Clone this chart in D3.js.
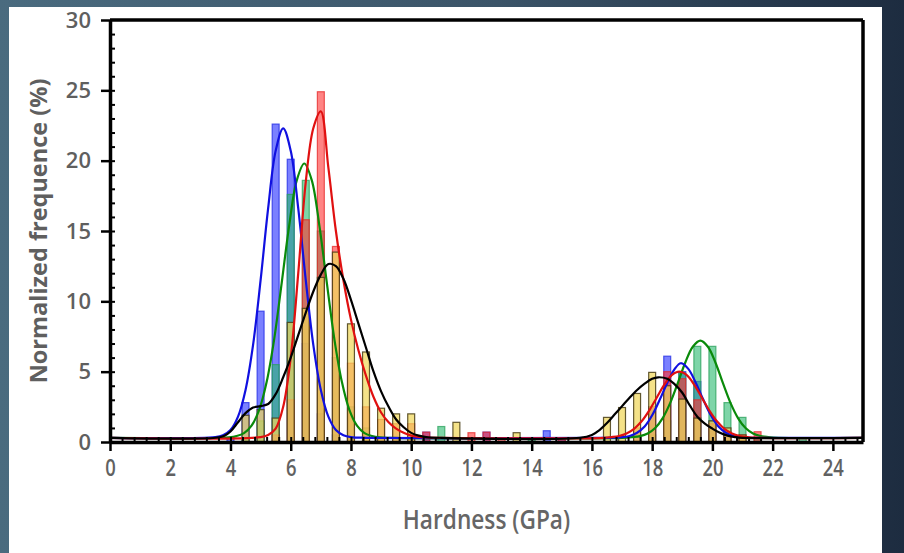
<!DOCTYPE html>
<html>
<head>
<meta charset="utf-8">
<script src="https://cdn.jsdelivr.net/npm/d3@7"></script>
<style>
  body { margin: 0; background: #2b4255; }
  svg { display: block; }
</style>
</head>
<body>
<div id="chart"></div>
<script>
let svgWidth = 904;
let svgHeight = 553;

let margin = { top: 20, right: 41, bottom: 111, left: 110 };
let width = svgWidth - margin.left - margin.right;
let height = svgHeight - margin.top - margin.bottom;

// histogram bin centres (GPa)
let bins = [4.0, 4.5, 5.0, 5.5, 6.0, 6.5, 7.0, 7.5, 8.0, 8.5, 9.0, 9.5, 10.0, 10.5, 11.0, 11.5,
  12.0, 12.5, 13.0, 13.5, 14.0, 14.5, 15.0, 15.5, 16.0, 16.5, 17.0, 17.5, 18.0, 18.5, 19.0,
  19.5, 20.0, 20.5, 21.0, 21.5, 22.0, 22.5, 23.0];

// normalized frequence (%) per bin
let blueBars = [0.3, 2.8, 9.3, 22.6, 20.1, 7.0, 2.0, 0.5, 0.3, 0, 0, 0, 0, 0.7, 0, 0,
  0, 0.7, 0, 0, 0, 0.8, 0.3, 0, 0, 0, 0, 0.5, 2.5, 6.1, 5.0,
  4.3, 1.5, 0.5, 0, 0, 0, 0, 0];
let greenBars = [0, 0.3, 1.5, 5.5, 17.6, 18.6, 15.0, 6.0, 2.5, 1.0, 0.3, 0, 0, 0, 1.1, 0,
  0, 0, 0, 0, 0.3, 0, 0, 0, 0, 0, 0, 0, 0.5, 1.5, 4.9,
  6.8, 6.8, 2.8, 1.75, 0.3, 0, 0, 0.3];
let redBars = [0, 0, 0, 0.5, 3.0, 15.8, 24.9, 13.9, 5.6, 2.5, 1.6, 1.3, 1.3, 0.7, 0, 0,
  0.66, 0.7, 0.3, 0, 0, 0, 0.3, 0, 0, 0, 0, 1.0, 2.5, 5.0, 4.5,
  3.0, 1.3, 0.7, 0.5, 0.73, 0, 0, 0];
let yellowBars = [0, 1.9, 2.3, 1.7, 8.5, 9.5, 11.7, 13.5, 8.4, 6.4, 2.4, 2.0, 2.0, 0, 0, 1.4,
  0, 0, 0, 0.66, 0, 0, 0, 0, 0, 1.75, 2.45, 3.45, 4.95, 4.0, 3.05,
  1.7, 1.5, 1.0, 0.5, 0, 0, 0, 0];

// fitted curves, [hardness, frequence]
let blueCurve = [[0, 0.3], [3.5, 0.35], [3.75, 0.48], [4.0, 0.85], [4.25, 1.8], [4.5, 3.7], [4.75, 6.9],
  [5.0, 11.5], [5.25, 16.6], [5.5, 20.7], [5.75, 22.3], [6.0, 20.7], [6.25, 16.6], [6.5, 11.5],
  [6.75, 6.9], [7.0, 3.7], [7.25, 1.8], [7.5, 0.85], [7.75, 0.48], [8.0, 0.35], [8.5, 0.3],
  [16.5, 0.3], [17.0, 0.34], [17.25, 0.43], [17.5, 0.66], [17.75, 1.1], [18.0, 1.9], [18.25, 3.0],
  [18.5, 4.2], [18.75, 5.2], [18.95, 5.6], [19.2, 5.2], [19.45, 4.2], [19.7, 3.0], [19.95, 1.9],
  [20.2, 1.1], [20.45, 0.66], [20.7, 0.43], [21.0, 0.33], [21.5, 0.3], [25, 0.3]];
let redCurve = [[0, 0.3], [5.0, 0.35], [5.25, 0.5], [5.5, 0.95], [5.75, 2.5], [6.0, 6.0],
  [6.25, 12.0], [6.5, 18.5], [6.75, 22.3], [7.0, 23.5], [7.25, 19.5], [7.5, 15.0], [7.75, 11.5],
  [8.0, 8.7], [8.25, 6.5], [8.5, 4.7], [8.75, 3.2], [9.0, 2.1], [9.25, 1.4], [9.5, 0.95],
  [9.75, 0.65], [10.0, 0.45], [10.5, 0.32], [11.0, 0.3], [16.4, 0.3], [16.65, 0.35], [16.9, 0.43],
  [17.15, 0.61], [17.4, 0.94], [17.65, 1.47], [17.9, 2.23], [18.15, 3.15], [18.4, 4.06],
  [18.65, 4.75], [18.9, 5.0], [19.15, 4.75], [19.4, 4.06], [19.65, 3.15], [19.9, 2.23],
  [20.15, 1.47], [20.4, 0.94], [20.65, 0.61], [20.9, 0.43], [21.15, 0.35], [21.5, 0.3], [25, 0.3]];
let greenCurve = [[0, 0.3], [3.7, 0.3], [3.95, 0.33], [4.2, 0.42], [4.45, 0.63], [4.7, 1.16],
  [4.95, 2.26], [5.2, 4.26], [5.45, 7.3], [5.7, 11.3], [5.95, 15.4], [6.2, 18.6], [6.45, 19.8],
  [6.7, 18.6], [6.95, 15.4], [7.2, 11.3], [7.45, 7.3], [7.7, 4.26], [7.95, 2.26], [8.2, 1.16],
  [8.45, 0.63], [8.7, 0.42], [8.95, 0.33], [9.3, 0.3], [17.0, 0.3], [17.35, 0.35], [17.6, 0.42],
  [17.85, 0.6], [18.1, 0.99], [18.35, 1.7], [18.6, 2.78], [18.85, 4.18], [19.1, 5.65],
  [19.35, 6.77], [19.6, 7.2], [19.85, 6.77], [20.1, 5.65], [20.35, 4.18], [20.6, 2.78],
  [20.85, 1.7], [21.1, 0.99], [21.35, 0.6], [21.6, 0.42], [21.85, 0.35], [22.2, 0.3], [25, 0.3]];
let blackCurve = [[0, 0.3], [3.5, 0.3], [3.8, 0.45], [4.0, 0.75], [4.25, 1.4], [4.5, 2.05],
  [4.75, 2.45], [5.0, 2.55], [5.25, 2.7], [5.5, 3.4], [5.75, 4.6], [6.0, 6.0], [6.25, 7.6],
  [6.5, 9.2], [6.75, 10.7], [7.0, 11.9], [7.25, 12.65], [7.5, 12.5], [7.75, 11.6], [8.0, 10.1],
  [8.25, 8.4], [8.5, 6.7], [8.75, 5.0], [9.0, 3.6], [9.25, 2.5], [9.5, 1.6], [9.75, 1.05],
  [10.0, 0.65], [10.25, 0.45], [10.5, 0.35], [11.0, 0.3], [15.6, 0.3], [16.0, 0.5], [16.25, 0.85],
  [16.5, 1.35], [16.75, 1.95], [17.0, 2.55], [17.25, 3.15], [17.5, 3.7], [17.75, 4.15],
  [18.0, 4.5], [18.2, 4.6], [18.5, 4.5], [18.75, 4.1], [19.0, 3.5], [19.25, 2.6], [19.5, 1.8],
  [19.75, 1.3], [20.0, 0.95], [20.25, 0.65], [20.5, 0.45], [20.75, 0.35], [21.0, 0.3], [25, 0.3]];

let xTicks = [0, 2, 4, 6, 8, 10, 12, 14, 16, 18, 20, 22, 24];
let yTicks = [0, 5, 10, 15, 20, 25, 30];

let svg = d3.select("#chart")
  .append("svg")
  .attr("width", svgWidth)
  .attr("height", svgHeight);

// dark video-frame background behind the white figure
let grad = svg.append("defs").append("linearGradient")
  .attr("id", "bg")
  .attr("x1", "0%").attr("x2", "100%").attr("y1", "0%").attr("y2", "0%");
grad.append("stop").attr("offset", "0%").attr("stop-color", "#4a6b7f");
grad.append("stop").attr("offset", "55%").attr("stop-color", "#3b5468");
grad.append("stop").attr("offset", "100%").attr("stop-color", "#1d2c40");

svg.append("rect")
  .attr("width", svgWidth)
  .attr("height", svgHeight)
  .attr("fill", "url(#bg)");

svg.append("rect")
  .attr("x", 9)
  .attr("y", 7)
  .attr("width", 873)
  .attr("height", svgHeight - 7)
  .attr("fill", "#ffffff");

let chartGroup = svg.append("g")
  .attr("transform", `translate(${margin.left}, ${margin.top})`);

let xScale = d3.scaleLinear().domain([0, 25]).range([0, width]);
let yScale = d3.scaleLinear().domain([0, 30]).range([height, 0]);

// bars
let barHalf = 0.115;
let series = [
  { values: blueBars, fill: "rgba(40,50,255,0.62)", stroke: "rgba(40,50,230,0.8)" },
  { values: greenBars, fill: "rgba(40,185,110,0.6)", stroke: "rgba(40,160,90,0.75)" },
  { values: redBars, fill: "rgba(255,50,50,0.6)", stroke: "rgba(230,40,40,0.75)" },
  { values: yellowBars, fill: "rgba(240,215,90,0.72)", stroke: "rgba(70,60,20,0.85)" }
];

series.forEach(function (s) {
  chartGroup.append("g")
    .selectAll("rect")
    .data(bins.map((b, i) => ({ x: b, v: s.values[i] })).filter(d => d.v > 0))
    .enter()
    .append("rect")
    .attr("x", d => xScale(d.x - barHalf))
    .attr("width", d => xScale(d.x + barHalf) - xScale(d.x - barHalf))
    .attr("y", d => yScale(d.v))
    .attr("height", d => yScale(0) - yScale(d.v))
    .attr("fill", s.fill)
    .attr("stroke", s.stroke)
    .attr("stroke-width", 1.2);
});

// fitted curves
let line = d3.line()
  .x(d => xScale(d[0]))
  .y(d => yScale(d[1]))
  .curve(d3.curveCatmullRom.alpha(0.5));

let curves = [
  { pts: greenCurve, color: "#0a8a0a" },
  { pts: blueCurve, color: "#1010e0" },
  { pts: redCurve, color: "#e01010" },
  { pts: blackCurve, color: "#000000" }
];
curves.forEach(function (c) {
  chartGroup.append("path")
    .datum(c.pts)
    .attr("d", line)
    .attr("fill", "none")
    .attr("stroke", c.color)
    .attr("stroke-width", 2.2);
});

// frame top and right
chartGroup.append("line")
  .attr("x1", 0).attr("x2", width).attr("y1", 0).attr("y2", 0)
  .attr("stroke", "#000").attr("stroke-width", 3.5);
chartGroup.append("line")
  .attr("x1", width).attr("x2", width).attr("y1", 0).attr("y2", height)
  .attr("stroke", "#000").attr("stroke-width", 3.5);

// minor ticks (inside)
chartGroup.append("g")
  .attr("transform", `translate(0, ${height})`)
  .call(d3.axisBottom(xScale).tickValues(d3.range(0.4, 25, 0.4)).tickSize(-5).tickFormat(""))
  .call(g => g.select(".domain").remove())
  .call(g => g.selectAll("line").attr("stroke", "#000").attr("stroke-width", 2));
chartGroup.append("g")
  .call(d3.axisLeft(yScale).tickValues(d3.range(1, 30, 1)).tickSize(-5).tickFormat(""))
  .call(g => g.select(".domain").remove())
  .call(g => g.selectAll("line").attr("stroke", "#000").attr("stroke-width", 2));

// major axes
let xAxis = chartGroup.append("g")
  .attr("transform", `translate(0, ${height})`)
  .call(d3.axisBottom(xScale).tickValues(xTicks).tickSize(9).tickPadding(9).tickSizeOuter(0));
let yAxis = chartGroup.append("g")
  .call(d3.axisLeft(yScale).tickValues(yTicks).tickSize(9).tickPadding(10).tickSizeOuter(0));

[xAxis, yAxis].forEach(function (a) {
  a.select(".domain").attr("stroke", "#000").attr("stroke-width", 3.5);
  a.selectAll(".tick line").attr("stroke", "#000").attr("stroke-width", 2.5);
});

// condensed look for the x labels
xAxis.selectAll("text")
  .attr("fill", "#616161")
  .attr("font-family", "'Open Sans', sans-serif")
  .attr("font-weight", 600)
  .attr("font-size", 23)
  .attr("transform", "scale(0.8,1)");
yAxis.selectAll("text")
  .attr("fill", "#5f5f5f")
  .attr("font-family", "'Open Sans', sans-serif")
  .attr("font-weight", 600)
  .attr("font-size", 22);

// axis titles
chartGroup.append("g")
  .attr("transform", `translate(${width / 2}, ${height + 87}) scale(0.84,1)`)
  .append("text")
  .attr("text-anchor", "middle")
  .attr("fill", "#666666")
  .attr("font-family", "'Open Sans', sans-serif")
  .attr("font-weight", 600)
  .attr("font-size", 27)
  .text("Hardness (GPa)");

chartGroup.append("text")
  .attr("transform", "rotate(-90)")
  .attr("x", -211)
  .attr("y", -63)
  .attr("text-anchor", "middle")
  .attr("fill", "#5f5f5f")
  .attr("font-family", "'Open Sans', sans-serif")
  .attr("font-weight", 700)
  .attr("font-size", 23.5)
  .text("Normalized frequence (%)");
</script>
</body>
</html>
